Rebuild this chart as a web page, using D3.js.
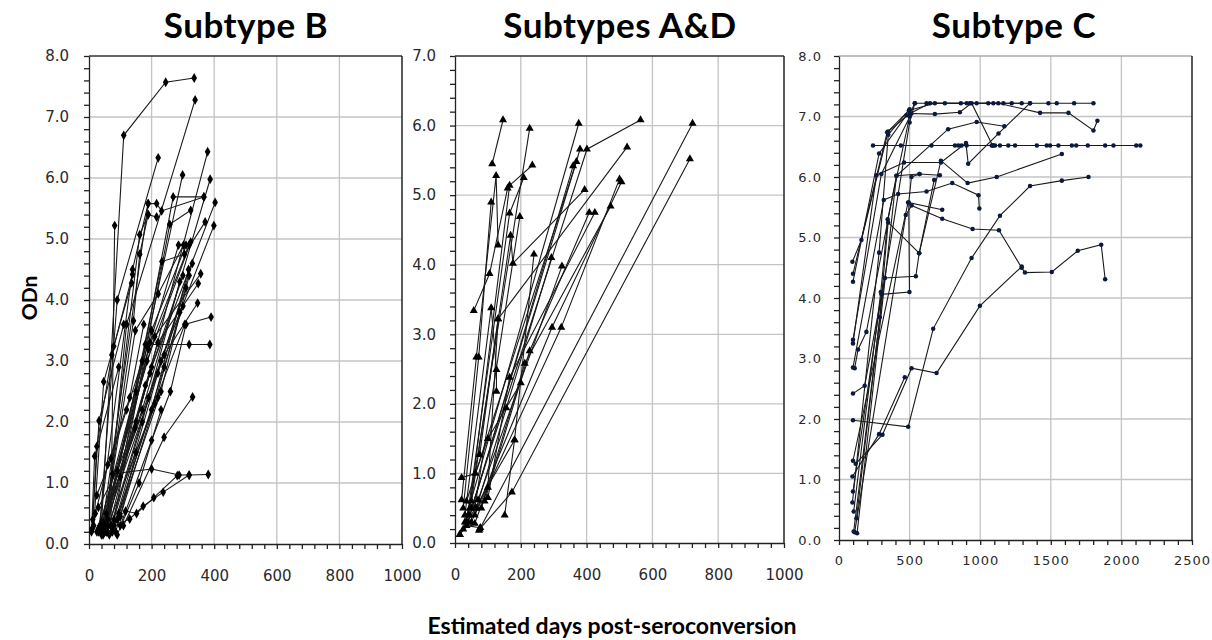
<!DOCTYPE html>
<html><head><meta charset="utf-8">
<script src="https://cdn.jsdelivr.net/npm/d3@7"></script>
<style>body{margin:0;background:#fff}svg{display:block}</style>
</head><body><svg id="chart" width="1212" height="640"></svg>
<script>
const titles = ["Subtype B", "Subtypes A&D", "Subtype C"];
const yLabel = "ODn";
const xLabel = "Estimated days post-seroconversion";
const xTicksAB = [0, 200, 400, 600, 800, 1000];
const xTicksC = [0, 500, 1000, 1500, 2000, 2500];
const yTicks8 = [0, 1, 2, 3, 4, 5, 6, 7, 8];
const yTicks7 = [0, 1, 2, 3, 4, 5, 6, 7];

const seriesB = [
 [[40,0.35],[111,6.7],[245,7.57],[336,7.64]],
 [[55,0.2],[120,3.6],[339,7.28]],
 [[35,0.3],[90,4.0],[221,6.33]],
 [[70,0.3],[82,5.22]],
 [[45,0.15],[150,2.5],[299,6.05]],
 [[40,0.2],[189,5.58],[216,5.58],[232,5.46],[367,5.69]],
 [[50,0.25],[162,5.07],[189,5.4],[216,5.36]],
 [[30,0.2],[139,4.5],[189,5.58]],
 [[100,1.1],[269,5.69],[367,5.69]],
 [[80,0.4],[258,5.24],[325,5.47]],
 [[25,0.2],[147,1.9],[379,6.43]],
 [[45,0.3],[170,2.2],[387,5.98]],
 [[50,0.2],[200,2.9],[403,5.6]],
 [[40,0.3],[230,3.0],[399,5.22]],
 [[60,0.4],[233,4.63],[305,4.75],[371,5.28]],
 [[40,0.2],[190,3.2],[320,4.9]],
 [[35,0.3],[200,3.5],[310,4.9]],
 [[55,0.2],[195,3.3],[286,4.9]],
 [[45,0.35],[185,3.0],[325,4.95]],
 [[30,0.25],[210,3.4],[357,4.43]],
 [[50,0.3],[220,3.3],[349,4.27]],
 [[40,0.15],[240,3.1],[347,3.95]],
 [[60,0.3],[306,3.6],[390,3.72]],
 [[45,0.2],[180,3.27],[320,3.27],[386,3.27]],
 [[110,0.3],[240,1.75],[331,2.41]],
 [[75,1.15],[200,1.23],[288,1.13],[320,1.13],[381,1.14]],
 [[40,0.2],[130,0.41],[173,0.62],[237,0.85],[320,1.13]],
 [[60,0.3],[117,0.54],[152,0.5],[207,0.76],[282,1.12]],
 [[10,0.25],[25,1.6],[73,3.1],[139,4.42]],
 [[15,0.3],[47,2.66],[79,3.24],[136,4.28]],
 [[12,0.4],[32,2.02],[111,3.6]],
 [[8,0.2],[18,1.44],[95,2.9]],
 [[50,0.3],[142,3.66],[162,4.75],[189,5.4]],
 [[55,0.5],[148,3.5],[221,4.1],[302,4.9]],
 [[60,0.2],[180,2.6],[300,4.4]],
 [[70,0.3],[190,2.4],[310,4.2]],
 [[75,0.2],[200,2.2],[318,4.5]],
 [[65,0.15],[170,2.0],[290,4.3]],
 [[80,0.3],[220,2.8],[330,4.6]],
 [[90,0.4],[230,2.5],[320,4.4]],
 [[85,0.2],[210,2.3],[290,3.8]],
 [[95,0.5],[240,2.9],[300,3.9]],
 [[100,0.3],[200,1.7],[260,2.5],[310,3.6]],
 [[90,0.15],[160,1.0],[230,2.2]],
 [[100,0.45],[150,1.5],[220,2.4]],
 [[20,0.5],[60,1.3],[130,2.4],[175,3.6]],
 [[30,0.6],[90,1.2],[150,2.0],[195,2.8]],
 [[25,0.8],[70,1.4],[120,2.2],[170,3.0]]
];

const seriesAD = [
 [[113,5.45],[146,6.08]],
 [[20,0.62],[65,2.67],[125,5.28],[131,4.28]],
 [[40,0.4],[227,5.96]],
 [[45,0.5],[166,5.14],[235,5.43]],
 [[35,0.3],[166,4.74],[209,5.25]],
 [[50,0.6],[169,4.42],[176,4.02],[394,5.08]],
 [[60,0.5],[197,4.69]],
 [[57,3.34],[105,3.87],[160,5.1]],
 [[30,0.4],[110,3.38],[126,2.49],[126,2.18]],
 [[25,0.5],[72,2.67],[110,4.9]],
 [[75,1.27],[131,3.22],[523,5.69]],
 [[60,0.4],[323,3.1],[500,5.23]],
 [[73,0.18],[722,6.03]],
 [[75,0.2],[173,0.73],[714,5.52]],
 [[151,0.4],[181,1.48],[240,4.15]],
 [[30,0.3],[376,6.03]],
 [[50,0.5],[401,5.66],[564,6.08]],
 [[45,0.4],[380,5.66]],
 [[40,0.3],[359,5.42]],
 [[35,0.6],[369,5.48]],
 [[50,0.3],[295,3.1],[506,5.19]],
 [[80,0.5],[212,2.58],[473,4.84]],
 [[90,0.6],[227,2.76],[408,4.75]],
 [[100,0.65],[166,2.38],[425,4.75]],
 [[65,0.5],[156,1.94],[293,4.1]],
 [[70,0.62],[325,3.98]],
 [[15,0.12],[181,1.48]],
 [[20,0.94],[62,1.0],[100,1.5],[200,2.3]],
 [[25,0.2],[60,0.28],[100,0.8],[131,3.22]],
 [[14,0.12],[35,0.25],[77,0.22]]
];

const seriesC = [
 [[241,6.52],[438,6.52],[655,6.52],[821,6.52],[845,6.52],[868,6.52],[904,6.52],[1081,6.52],[1093,6.52],[1105,6.52],[1140,6.52],[1199,6.52],[1247,6.52],[1401,6.52],[1471,6.52],[1495,6.52],[1554,6.52],[1649,6.52],[1680,6.52],[1762,6.52],[1885,6.52],[1944,6.52],[2105,6.52],[2134,6.52]],
 [[95,4.6],[159,4.96],[348,6.75],[502,7.05],[537,7.22],[620,7.22],[750,7.22],[863,7.22],[975,7.22],[1093,7.22],[1223,7.22],[1353,7.22],[1483,7.22],[1542,7.22],[1665,7.22],[1802,7.22]],
 [[99,4.4],[341,6.74],[495,7.1],[679,7.22],[927,7.22],[1128,7.22],[1424,7.06],[1625,7.06],[1802,6.77],[1830,6.93]],
 [[99,4.27],[284,6.39],[478,7.02],[644,7.22],[904,7.22],[1057,7.22],[1164,7.22],[1294,7.22]],
 [[99,3.31],[300,6.05],[513,7.05],[679,7.04],[856,7.07],[939,7.22],[1088,6.52]],
 [[99,3.25],[265,6.03],[461,6.24],[722,6.24],[899,6.56],[915,6.22],[1130,6.72],[1353,7.22]],
 [[128,0.11],[407,6.02],[773,6.79],[975,6.91],[1171,6.84]],
 [[99,1.98],[490,1.87],[667,3.49],[939,4.66],[1140,5.36],[1353,5.85],[1578,5.94],[1767,6.0]],
 [[95,1.05],[284,1.75],[466,2.69]],
 [[118,1.26],[308,1.74],[514,2.84],[691,2.76],[998,3.87],[1294,4.52]],
 [[124,0.36],[289,3.68],[348,5.25],[568,4.74],[722,6.27],[911,5.9],[1117,6.0],[1578,6.38]],
 [[99,2.85],[317,5.62],[419,5.72],[620,5.76],[802,5.9],[988,5.7],[994,5.48]],
 [[99,1.31],[489,5.58],[731,5.46]],
 [[111,0.13],[473,5.37],[514,5.53],[731,5.31],[946,5.14],[1133,5.12],[1294,4.5],[1317,4.42],[1507,4.43],[1691,4.78],[1857,4.88],[1885,4.31]],
 [[99,0.8],[301,4.06],[499,4.1],[494,5.58],[513,6.0],[570,6.05],[714,6.03]],
 [[111,2.84],[135,3.15],[194,3.44],[407,6.02],[570,6.05]],
 [[99,2.42],[182,2.55],[324,4.33],[544,4.36],[568,4.74],[674,5.95]],
 [[95,0.62],[284,4.75],[349,6.7],[500,7.12]],
 [[104,0.47],[296,4.1],[345,5.3],[500,7.0]],
 [[104,0.14],[324,4.33],[500,6.9],[537,7.22]]
];

const panels = [
 {title: titles[0], data: seriesB, xTicks: xTicksAB, xMinor: 40, yTicks: yTicks8, sym: d3.symbolDiamond, symSize: 28, mk: "#000",
  x0: 89, x1: 402, yb: 544, yt: 56, tx: 246, ypad: 20, xpad: 26, fs: 15, ls: 0, topCol: "#333"},
 {title: titles[1], data: seriesAD, xTicks: xTicksAB, xMinor: 40, yTicks: yTicks7, sym: d3.symbolTriangle, symSize: 28, mk: "#000",
  x0: 455, x1: 784, yb: 543, yt: 56, tx: 620, ypad: 19, xpad: 26, fs: 15, ls: 0, topCol: "#333"},
 {title: titles[2], data: seriesC, xTicks: xTicksC, xMinor: 100, yTicks: yTicks8, sym: d3.symbolCircle, symSize: 16, mk: "#0b1a3c",
  x0: 839, x1: 1192, yb: 540, yt: 56, tx: 1014, ypad: 17, xpad: 16, fs: 13, ls: 1, topCol: "#aaa"}
];

const svg = d3.select("#chart");

panels.forEach(p => {
  const xMax = p.xTicks[p.xTicks.length - 1];
  const yMax = p.yTicks[p.yTicks.length - 1];
  const x = d3.scaleLinear().domain([0, xMax]).range([p.x0, p.x1]);
  const y = d3.scaleLinear().domain([0, yMax]).range([p.yb, p.yt]);
  const g = svg.append("g");

  g.append("g").selectAll("line").data(p.xTicks.slice(1, -1)).join("line")
    .attr("x1", d => x(d)).attr("x2", d => x(d)).attr("y1", p.yt).attr("y2", p.yb)
    .attr("stroke", "#c4c4c4").attr("stroke-width", 1.3);
  g.append("g").selectAll("line").data(p.yTicks.slice(1, -1)).join("line")
    .attr("y1", d => y(d)).attr("y2", d => y(d)).attr("x1", p.x0).attr("x2", p.x1)
    .attr("stroke", "#c4c4c4").attr("stroke-width", 1.3);
  g.append("line").attr("x1", p.x0).attr("x2", p.x1).attr("y1", p.yt).attr("y2", p.yt)
    .attr("stroke", p.topCol).attr("stroke-width", 1.3);
  g.append("line").attr("x1", p.x1).attr("x2", p.x1).attr("y1", p.yt).attr("y2", p.yb)
    .attr("stroke", "#222").attr("stroke-width", 1.5);

  const yMinorVals = d3.range(0, yMax * 5 + 1).map(i => i / 5);
  const xMinorVals = d3.range(0, xMax / p.xMinor + 1).map(i => i * p.xMinor);
  g.append("g").attr("transform", `translate(${p.x0},0)`)
    .call(d3.axisLeft(y).tickValues(yMinorVals).tickFormat("").tickSize(5).tickSizeOuter(0))
    .call(s => s.selectAll("line,path").attr("stroke", "#222").attr("stroke-width", 1.3));
  g.append("g").attr("transform", `translate(0,${p.yb})`)
    .call(d3.axisBottom(x).tickValues(xMinorVals).tickFormat("").tickSize(5).tickSizeOuter(0))
    .call(s => s.selectAll("line,path").attr("stroke", "#222").attr("stroke-width", 1.3));

  const yl = g.append("g").attr("transform", `translate(${p.x0},0)`)
    .call(d3.axisLeft(y).tickValues(p.yTicks).tickFormat(d3.format(".1f")).tickSize(0).tickPadding(p.ypad));
  const xl = g.append("g").attr("transform", `translate(0,${p.yb})`)
    .call(d3.axisBottom(x).tickValues(p.xTicks).tickFormat(d3.format("d")).tickSize(0).tickPadding(p.xpad));
  [yl, xl].forEach(a => {
    a.select(".domain").remove();
    a.selectAll("text").attr("font-family", "DejaVu Sans, Verdana, sans-serif")
      .attr("font-size", p.fs).attr("fill", "#2a2a2a").attr("letter-spacing", p.ls);
  });

  const line = d3.line().x(d => x(d[0])).y(d => y(d[1]));
  g.append("g").selectAll("path").data(p.data).join("path")
    .attr("d", line).attr("fill", "none").attr("stroke", "#1a1a1a").attr("stroke-width", 1.1);
  const sym = d3.symbol().type(p.sym).size(p.symSize);
  g.append("g").selectAll("path").data(p.data.flat()).join("path")
    .attr("transform", d => `translate(${x(d[0])},${y(d[1])})`)
    .attr("d", sym).attr("fill", p.mk);

  svg.append("text").attr("x", p.tx).attr("y", 38).attr("text-anchor", "middle")
    .attr("font-family", "Lato, 'Open Sans', sans-serif").attr("font-weight", "bold")
    .attr("font-size", 35).attr("letter-spacing", 0.5).attr("fill", "#000").text(p.title);
});

svg.append("text").attr("transform", "translate(37,298) rotate(-90)").attr("text-anchor", "middle")
  .attr("font-family", "Lato, 'Open Sans', sans-serif").attr("font-weight", "bold")
  .attr("font-size", 21).text(yLabel);
svg.append("text").attr("x", 612).attr("y", 634).attr("text-anchor", "middle")
  .attr("font-family", "Lato, 'Open Sans', sans-serif").attr("font-weight", "bold")
  .attr("font-size", 23).text(xLabel);
</script></body></html>
